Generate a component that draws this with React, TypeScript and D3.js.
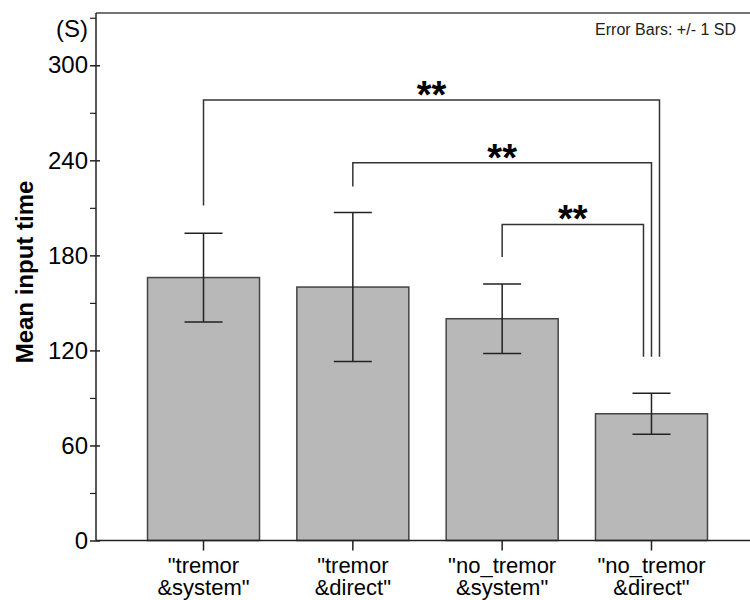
import React, { useEffect, useRef } from "react";
import * as d3 from "d3";

// group labels (two lines each)
const categories = ["tremor&system", "tremor&direct", "no_tremor&system", "no_tremor&direct"];
const labelTop = ['"tremor', '"tremor', '"no_tremor', '"no_tremor'];
const labelBottom = ['&system"', '&direct"', '&system"', '&direct"'];

const means = [166, 160, 140, 80];
const sds = [28, 47, 22, 13];

const majorTicks = [0, 60, 120, 180, 240, 300];
const minorTicks = [30, 90, 150, 210, 270, 330];

// significance brackets
const sigFrom = [0, 1, 2];
const sigTo = [3, 3, 3];
const sigLevel = [278, 238.5, 199.5];
const sigFromEnd = [211.5, 223.5, 179];
const sigToEnd = [116, 116, 116];
const sigLabels = ["**", "**", "**"];

const FONT = "'Liberation Sans', Arial, sans-serif";

const App: React.FC = () => {
  const ref = useRef<SVGSVGElement | null>(null);

  useEffect(() => {
    const svg = d3.select(ref.current);
    svg.selectAll("*").remove();

    const left = 96;
    const top = 13;
    const bottom = 540.5;
    const right = 759;

    const x = d3
      .scaleBand()
      .domain(categories)
      .range([left, right])
      .paddingInner(0.25)
      .paddingOuter(0.345);

    const y = d3.scaleLinear().domain([0, 333]).range([bottom, top]);

    const g = svg.append("g").style("font-family", FONT);

    // frame top line
    g.append("line")
      .attr("x1", left)
      .attr("x2", 750)
      .attr("y1", top)
      .attr("y2", top)
      .attr("stroke", "#444")
      .attr("stroke-width", 1.5);

    // bars
    g.append("g")
      .selectAll("rect")
      .data(categories)
      .join("rect")
      .attr("x", (d) => x(d)!)
      .attr("y", (d, i) => y(means[i]))
      .attr("width", x.bandwidth())
      .attr("height", (d, i) => bottom - y(means[i]))
      .attr("fill", "#b8b8b8")
      .attr("stroke", "#444")
      .attr("stroke-width", 1.5);

    // error bars
    const capW = 19;
    const eb = g
      .append("g")
      .attr("stroke", "#222")
      .attr("stroke-width", 1.5);
    categories.forEach((c, i) => {
      const cx = x(c)! + x.bandwidth() / 2;
      const hi = y(means[i] + sds[i]);
      const lo = y(means[i] - sds[i]);
      eb.append("line").attr("x1", cx).attr("x2", cx).attr("y1", hi).attr("y2", lo);
      eb.append("line").attr("x1", cx - capW).attr("x2", cx + capW).attr("y1", hi).attr("y2", hi);
      eb.append("line").attr("x1", cx - capW).attr("x2", cx + capW).attr("y1", lo).attr("y2", lo);
    });

    // Y axis
    const yAxis = g
      .append("g")
      .attr("transform", `translate(${left},0)`)
      .call(d3.axisLeft(y).tickValues(majorTicks).tickSizeInner(6).tickSizeOuter(0).tickFormat(d3.format("d")));
    yAxis.select(".domain").attr("stroke", "#222").attr("stroke-width", 1.5).attr("d", `M0,${top}V${bottom}`);
    yAxis.selectAll(".tick line").attr("x1", 4).attr("stroke", "#222").attr("stroke-width", 1.5);
    yAxis
      .selectAll("text")
      .attr("x", -8)
      .style("font-family", FONT)
      .style("font-size", "24px")
      .attr("fill", "#000");

    const yMinor = g
      .append("g")
      .attr("transform", `translate(${left},0)`)
      .call(d3.axisLeft(y).tickValues(minorTicks).tickSize(6).tickFormat(() => ""));
    yMinor.select(".domain").remove();
    yMinor.selectAll(".tick line").attr("stroke", "#222").attr("stroke-width", 1.2);

    // X axis
    const xAxis = g
      .append("g")
      .attr("transform", `translate(0,${bottom})`)
      .call(d3.axisBottom(x).tickSizeInner(10).tickSizeOuter(0).tickFormat(() => ""));
    xAxis.select(".domain").attr("stroke", "#222").attr("stroke-width", 1.5).attr("d", `M${left},0H750`);
    xAxis.selectAll(".tick line").attr("stroke", "#222").attr("stroke-width", 1.5);

    const xl = g.append("g").style("font-size", "22px").attr("text-anchor", "middle");
    categories.forEach((c, i) => {
      const cx = x(c)! + x.bandwidth() / 2;
      const t = xl.append("text").attr("x", cx).attr("y", 573);
      t.append("tspan").attr("x", cx).text(labelTop[i]);
      t.append("tspan").attr("x", cx).attr("dy", 22).text(labelBottom[i]);
    });

    // unit label
    g.append("text")
      .attr("x", 88)
      .attr("y", 37)
      .attr("text-anchor", "end")
      .style("font-size", "24px")
      .text("(S)");

    // y title
    g.append("text")
      .attr("transform", `translate(33,272) rotate(-90)`)
      .attr("text-anchor", "middle")
      .style("font-size", "24px")
      .style("font-weight", "bold")
      .text("Mean input time");

    // note
    g.append("text")
      .attr("x", 736)
      .attr("y", 35)
      .attr("text-anchor", "end")
      .style("font-size", "16px")
      .attr("fill", "#222")
      .text("Error Bars: +/- 1 SD");

    // significance brackets
    const sg = g.append("g");
    sigFrom.forEach((f, i) => {
      const x0 = x(categories[f])! + x.bandwidth() / 2;
      const x1 = x(categories[sigTo[i]])! + x.bandwidth() / 2 + (1 - i) * 8;
      const yl = y(sigLevel[i]);
      sg.append("path")
        .attr(
          "d",
          `M${x0},${y(sigFromEnd[i])}V${yl}H${x1}V${y(sigToEnd[i])}`
        )
        .attr("fill", "none")
        .attr("stroke", "#333")
        .attr("stroke-width", 1.5);
      sg.append("text")
        .attr("x", (x0 + x1) / 2)
        .attr("y", yl + 8)
        .attr("text-anchor", "middle")
        .style("font-size", "38px")
        .style("font-weight", "bold")
        .text(sigLabels[i]);
    });
  }, []);

  return (
    <div style={{ position: "absolute", left: 0, top: 0 }}>
      <svg ref={ref} width={750} height={600} style={{ display: "block" }} />
    </div>
  );
};

export default App;
